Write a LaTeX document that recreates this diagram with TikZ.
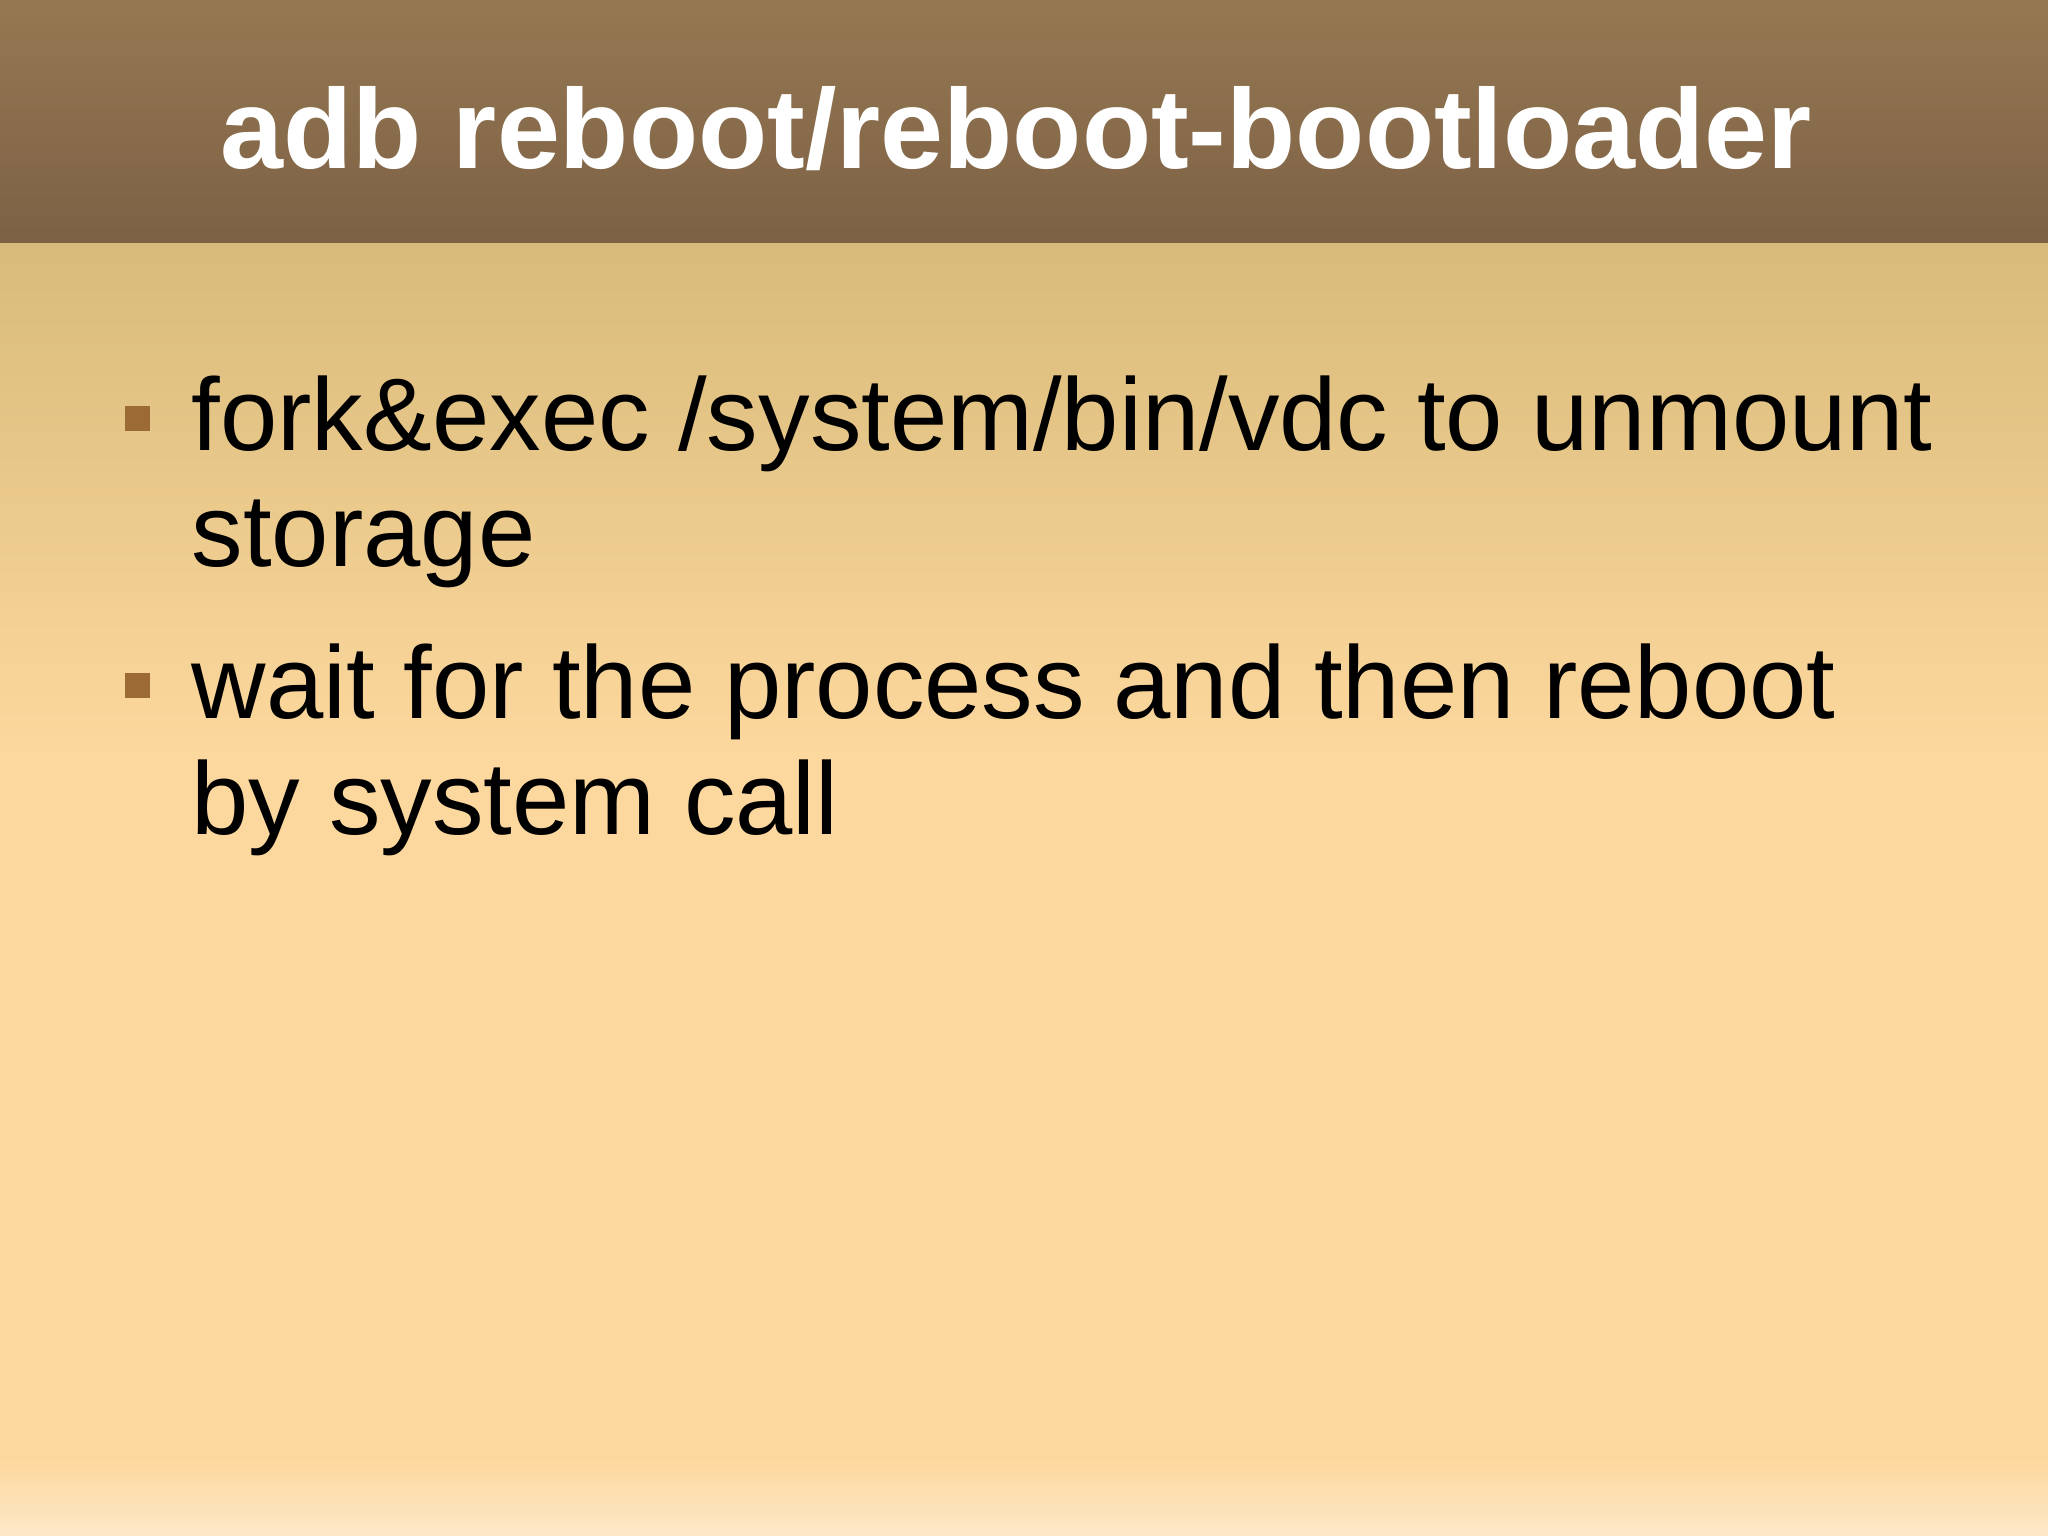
\documentclass[tikz,border=0pt]{standalone}
\usepackage{fontspec}
\setmainfont{Liberation Sans}
\begin{document}
\begin{tikzpicture}[x=0.01cm,y=-0.01cm,
  title/.style={font=\fontsize{32.2}{38}\selectfont\bfseries,text=white,inner sep=0pt},
  body/.style={font=\fontsize{29.3}{34}\selectfont,text=black,inner sep=0pt,anchor=base west},
  bsq/.style={fill=bul,draw=none}]
\definecolor{hdtop}{HTML}{967852}
\definecolor{hdbot}{HTML}{7C6145}
\definecolor{bdtop}{HTML}{D8BB7A}
\definecolor{bdmid}{HTML}{FDD89E}
\definecolor{bdbot}{HTML}{FDE8C8}
\definecolor{bul}{HTML}{9B6A35}
\useasboundingbox (0,0) rectangle (2048,1535);
\shade[top color=hdtop,bottom color=hdbot] (0,0) rectangle (2048,243);
\shade[top color=bdtop,bottom color=bdmid] (0,243) rectangle (2048,760);
\fill[bdmid] (0,759) rectangle (2048,1460);
\shade[top color=bdmid,bottom color=bdbot] (0,1459) rectangle (2048,1535);
\node[title,anchor=base] (t) at (1016,168) {adb reboot/reboot-bootloader};
\fill[bsq] (125,406) rectangle (150,431);
\node[body] (l1) at (191,450) {fork\&exec /system/bin/vdc to unmount};
\node[body] (l2) at (191,566) {storage};
\fill[bsq] (125,673) rectangle (150,698);
\node[body] (l3) at (191,718) {wait for the process and then reboot};
\node[body] (l4) at (191,834) {by system call};
\end{tikzpicture}
\end{document}
